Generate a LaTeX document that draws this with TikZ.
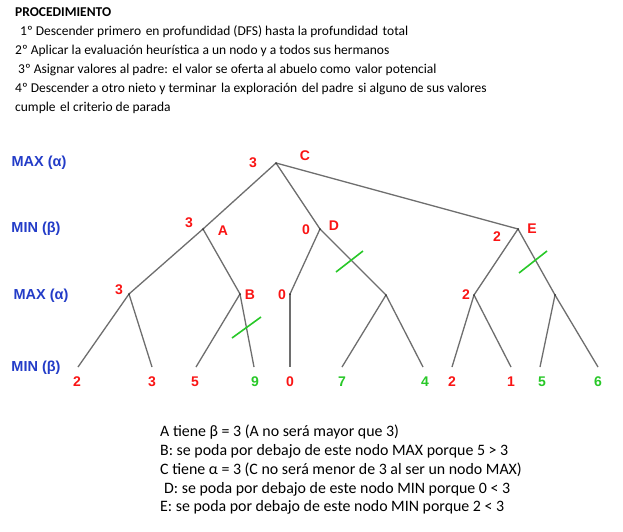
\documentclass[tikz,border=0pt]{standalone}
\usepackage{fontspec}
\setmainfont{Carlito}
\newfontfamily\arialfont{Liberation Sans}
\newcommand{\dsp}{\ \hspace{1.5pt}}
\begin{document}
\begin{tikzpicture}[x=1pt,y=-1pt,
  txt/.style={anchor=base west,inner sep=0pt,font=\fontsize{13.5}{16}\selectfont},
  btxt/.style={anchor=base west,inner sep=0pt,font=\fontsize{15.9}{18}\selectfont},
  lvl/.style={inner sep=0pt,text=lvlblue,font=\arialfont\bfseries\fontsize{14.5}{16}\selectfont},
  val/.style={inner sep=0pt,text=valred,font=\arialfont\bfseries\fontsize{14}{16}\selectfont},
  gval/.style={val,text=valgreen},
  edge/.style={draw=edgegray,line width=1.3pt},
  cut/.style={draw=cutgreen,line width=1.6pt},
  dot/.style={circle,fill=black!80,inner sep=0pt,minimum size=2pt}]
\definecolor{lvlblue}{RGB}{35,60,200}
\definecolor{valred}{RGB}{250,20,20}
\definecolor{valgreen}{RGB}{40,200,40}
\definecolor{edgegray}{RGB}{110,110,110}
\definecolor{cutgreen}{RGB}{40,200,40}
\useasboundingbox (0,0) rectangle (623,531);
\fill[white] (0,0) rectangle (623,531);
% header text
\node[txt,font=\bfseries\fontsize{13.5}{16}\selectfont] (h0) at (15,16) {PROCEDIMIENTO};
\node[txt] (h1) at (20,35) {1º Descender primero\dsp en profundidad (DFS) hasta la profundidad\dsp total};
\node[txt] (h2) at (15,54) {2º Aplicar la evaluación heurística a un nodo y a todos sus hermanos};
\node[txt] (h3) at (18,73) {3º Asignar valores al padre:\dsp el valor se oferta al abuelo como\dsp valor potencial};
\node[txt] (h4) at (15,92.5) {4º Descender a otro nieto y terminar\dsp la exploración\dsp del padre\dsp si alguno de sus valores};
\node[txt] (h5) at (15,111.5) {cumple\dsp el criterio de parada};
% level labels
\node[lvl] (l1) at (39,163) {MAX (α)};
\node[lvl] (l2) at (36,229) {MIN (β)};
\node[lvl] (l3) at (41,296) {MAX (α)};
\node[lvl] (l4) at (36,368) {MIN (β)};
% tree points
\coordinate (C) at (276,163);
\coordinate (A) at (203,229);
\coordinate (D) at (320,229);
\coordinate (E) at (518,229);
\coordinate (X) at (129,294);
\coordinate (B) at (240,294);
\coordinate (Dl) at (290,294);
\coordinate (Dr) at (386,295);
\coordinate (El) at (474,295);
\coordinate (Er) at (555,295);
\coordinate (f1) at (78,367);
\coordinate (f2) at (152,367);
\coordinate (f3) at (196,367);
\coordinate (f4) at (254,367);
\coordinate (f5) at (290,367);
\coordinate (f6) at (342,367);
\coordinate (f7) at (423,367);
\coordinate (f8) at (452,367);
\coordinate (f9) at (511,367);
\coordinate (f10) at (540,367);
\coordinate (f11) at (598,367);
% edges
\draw[edge] (C) -- (A);
\draw[edge] (C) -- (D);
\draw[edge] (C) -- (E);
\draw[edge] (A) -- (X);
\draw[edge] (A) -- (B);
\draw[edge] (D) -- (Dl);
\draw[edge] (D) -- (Dr);
\draw[edge] (E) -- (El);
\draw[edge] (E) -- (Er);
\draw[edge] (X) -- (f1);
\draw[edge] (X) -- (f2);
\draw[edge] (B) -- (f3);
\draw[edge] (B) -- (f4);
\draw[edge] (Dl) -- (f5);
\draw[edge] (Dr) -- (f6);
\draw[edge] (Dr) -- (f7);
\draw[edge] (El) -- (f8);
\draw[edge] (El) -- (f9);
\draw[edge] (Er) -- (f10);
\draw[edge] (Er) -- (f11);
\foreach \p in {C,A,D,E,X,B,Dl,Dr,El,Er} \node[dot] at (\p) {};
% cuts
\coordinate (cb1) at (232,338); \coordinate (cb2) at (261,317);
\coordinate (cd1) at (336,272); \coordinate (cd2) at (363,251);
\coordinate (ce1) at (519,273); \coordinate (ce2) at (547,251);
\draw[cut] (cb1) -- (cb2);
\draw[cut] (cd1) -- (cd2);
\draw[cut] (ce1) -- (ce2);
% values and names
\node[val] (vC) at (253,163) {3};
\node[val] (nC) at (305,156) {C};
\node[val] (vA) at (189,223) {3};
\node[val] (nA) at (223,231) {A};
\node[val] (vD) at (306,230) {0};
\node[val] (nD) at (334,226) {D};
\node[val] (vE) at (497,237) {2};
\node[val] (nE) at (532,229) {E};
\node[val] (vX) at (119,290) {3};
\node[val] (nB) at (250,295) {B};
\node[val] (vDl) at (282,295) {0};
\node[val] (vEl) at (466,295) {2};
% leaves
\node[val] (t1) at (77,382) {2};
\node[val] (t2) at (152,382) {3};
\node[val] (t3) at (195,382) {5};
\node[gval] (t4) at (255,382) {9};
\node[val] (t5) at (290,382) {0};
\node[gval] (t6) at (342,382) {7};
\node[gval] (t7) at (425,382) {4};
\node[val] (t8) at (452,382) {2};
\node[val] (t9) at (511,382) {1};
\node[gval] (t10) at (542,382) {5};
\node[gval] (t11) at (598,382) {6};
% bottom text
\node[btxt] (b1) at (160,436.5) {A tiene β = 3 (A no será mayor que 3)};
\node[btxt] (b2) at (160,455.5) {B: se poda por debajo de este nodo MAX porque 5 > 3};
\node[btxt] (b3) at (160,474.5) {C tiene α = 3 (C no será menor de 3 al ser un nodo MAX)};
\node[btxt] (b4) at (164,493) {D: se poda por debajo de este nodo MIN porque 0 < 3};
\node[btxt] (b5) at (160,511.5) {E: se poda por debajo de este nodo MIN porque 2 < 3};
\end{tikzpicture}
\end{document}
